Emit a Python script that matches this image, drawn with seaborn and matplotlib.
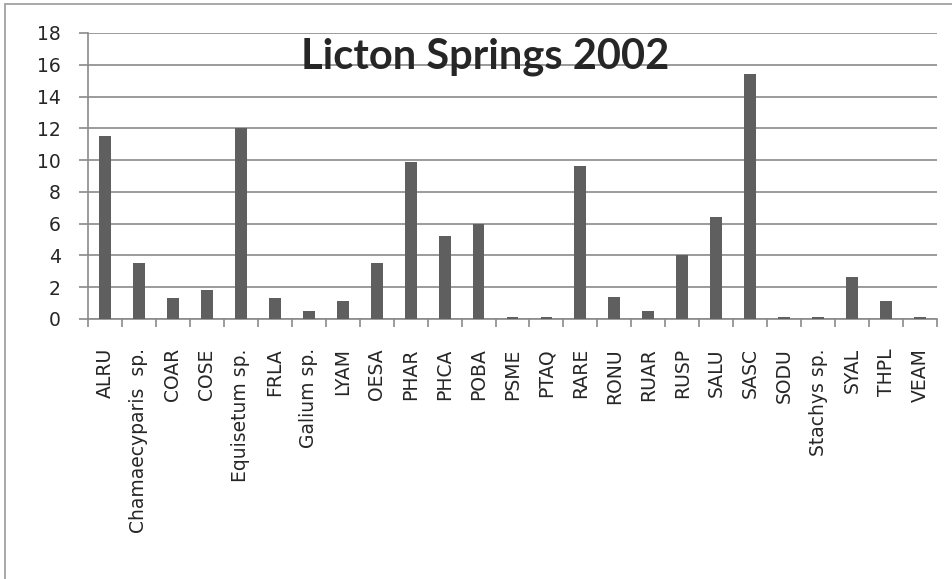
import numpy as np
import pandas as pd
import seaborn as sns
from matplotlib import pyplot as plt
from matplotlib.lines import Line2D

species = ['ALRU', 'Chamaecyparis  sp.', 'COAR', 'COSE', 'Equisetum sp.', 'FRLA',
           'Galium sp.', 'LYAM', 'OESA', 'PHAR', 'PHCA', 'POBA', 'PSME', 'PTAQ',
           'RARE', 'RONU', 'RUAR', 'RUSP', 'SALU', 'SASC', 'SODU', 'Stachys sp.',
           'SYAL', 'THPL', 'VEAM']
values = [11.5, 3.55, 1.3, 1.8, 12.0, 1.3, 0.53, 1.16, 3.55, 9.9, 5.2, 6.0, 0.15, 0.13,
          9.6, 1.4, 0.5, 4.0, 6.4, 15.4, 0.13, 0.13, 2.65, 1.12, 0.13]
y_ticks = [0, 2, 4, 6, 8, 10, 12, 14, 16, 18]

sns.set_style('white')
plt.rcParams['font.family'] = ['DejaVu Sans']

df = pd.DataFrame({'species': species, 'value': values})

fig = plt.figure(figsize=(9.52, 5.79), dpi=100)
ax = fig.add_axes([88 / 952, 1 - 319 / 579, (937 - 88) / 952, (319 - 33) / 579])

sns.barplot(data=df, x='species', y='value', color='#5f5f5f', saturation=1,
            width=0.35, linewidth=0, ax=ax, zorder=3)

ax.set_ylim(0, 18)
ax.set_xlim(-0.5, len(species) - 0.5)
ax.set_yticks(y_ticks)
ax.set_yticklabels([str(t) for t in y_ticks], fontsize=13.5)
ax.yaxis.grid(True, color='#8a8a8a', linewidth=1.2, zorder=0)
ax.set_xlabel('')
ax.set_ylabel('')
ax.set_xticks(range(len(species)))
ax.set_xticklabels(species, rotation=90, fontsize=13.5)
ax.tick_params(axis='x', which='major', length=0, pad=21)
ax.set_xticks(np.arange(-0.5, len(species)), minor=True)
ax.tick_params(axis='x', which='minor', bottom=True, length=6, color='#8a8a8a', width=1.2)
ax.tick_params(axis='y', left=True, length=6.5, color='#8a8a8a', width=1.2, pad=13)

for side in ['top', 'right']:
    ax.spines[side].set_visible(False)
for side in ['left', 'bottom']:
    ax.spines[side].set_color('#8a8a8a')
    ax.spines[side].set_linewidth(1.2)

# title sits inside the plot, between the 18 and 16 gridlines
fig.text(485 / 952, 1 - 69 / 579, 'Licton Springs 2002', ha='center', va='baseline',
         fontsize=30, fontweight='bold', family=['Lato', 'DejaVu Sans'], zorder=5)

# chart frame: only the top and left edges show in the crop
fig.add_artist(Line2D([5 / 952, 1.0], [1 - 4 / 579, 1 - 4 / 579], transform=fig.transFigure,
                      color='#a8a8a8', linewidth=1.4))
fig.add_artist(Line2D([5 / 952, 5 / 952], [0.0, 1 - 4 / 579], transform=fig.transFigure,
                      color='#a8a8a8', linewidth=1.4))

fig.savefig('out.png', dpi=100)
